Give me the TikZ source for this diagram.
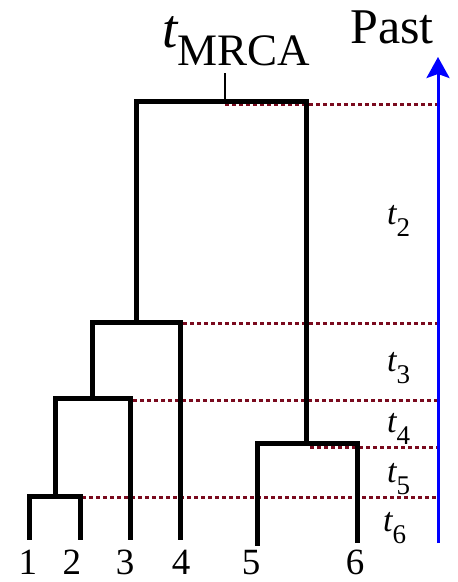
\documentclass[tikz,border=0pt]{standalone}
\usepackage{fontspec}
\setmainfont{Liberation Serif}
\usetikzlibrary{arrows.meta}
\definecolor{dotred}{RGB}{122,10,30}
\tikzset{
  tree/.style={line width=5pt, line join=miter, line cap=rect},
  dotline/.style={dotred, line width=3pt, dash pattern=on 3.5pt off 3.5pt},
  tlab/.style={anchor=base west, inner sep=0pt},
  leaflab/.style={anchor=base, inner sep=0pt, font=\fontsize{37}{37}\selectfont},
}
\newcommand{\tsub}[1]{{\fontsize{34}{34}\selectfont\itshape t}\raisebox{-12pt}{\fontsize{27}{27}\selectfont #1}}
\begin{document}
\begin{tikzpicture}[x=1pt,y=-1pt]
\useasboundingbox (0,0) rectangle (458,582);
% leaves
\coordinate (l1) at (29,537);
\coordinate (l2) at (80,537);
\coordinate (l3) at (130,537);
\coordinate (l4) at (180,537);
\coordinate (l5) at (257,543);
\coordinate (l6) at (357,540);
% internal nodes
\coordinate (n12) at (55,496);
\coordinate (n123) at (92,398);
\coordinate (n1234) at (136,322);
\coordinate (root) at (225,101);
\coordinate (n56) at (306,443);
\coordinate (tick) at (225,73);
% axis coordinates
\coordinate (a2) at (437,104);
\coordinate (a3) at (437,323);
\coordinate (a4) at (437,400);
\coordinate (a5) at (437,447);
\coordinate (a6) at (437,497);
\coordinate (s2) at (225,104);
\coordinate (s3) at (162,323);
\coordinate (s4) at (133,400);
\coordinate (s5) at (310,447);
\coordinate (s6) at (82,497);
\coordinate (abot) at (438,543);
\coordinate (atop) at (438,57);
% dotted lines
\draw[dotline] (s2) -- (a2);
\draw[dotline] (s3) -- (a3);
\draw[dotline] (s4) -- (a4);
\draw[dotline] (s5) -- (a5);
\draw[dotline] (s6) -- (a6);
% tree
\draw[tree] (l1) |- (n12) -| (l2);
\draw[tree] (n12) |- (n123) -| (l3);
\draw[tree] (n123) |- (n1234) -| (l4);
\draw[tree] (n1234) |- (root) -| (n56);
\draw[tree] (l5) |- (n56) -| (l6);
\draw[line width=2.5pt] (root) -- (tick);
% axis
\draw[blue, line width=3pt, -{Stealth[width=23pt,length=21pt,inset=4pt]}] (abot) -- (atop);
% labels
\node[tlab] (past) at (350,43) {\fontsize{50}{50}\selectfont Past};
\node[tlab] (tm) at (162,47) {{\fontsize{55}{55}\selectfont\itshape t}\raisebox{-18pt}{\fontsize{45}{45}\selectfont MRCA}};
\node[tlab] (t2) at (387,224) {\tsub{2}};
\node[tlab] (t3) at (387,371) {\tsub{3}};
\node[tlab] (t4) at (387,432) {\tsub{4}};
\node[tlab] (t5) at (387,482) {\tsub{5}};
\node[tlab] (t6) at (383,531) {\tsub{6}};
\node[leaflab] (x1) at (28,574) {1};
\node[leaflab] (x2) at (72,574) {2};
\node[leaflab] (x3) at (125,574) {3};
\node[leaflab] (x4) at (181,574) {4};
\node[leaflab] (x5) at (251,574) {5};
\node[leaflab] (x6) at (355,574) {6};
\end{tikzpicture}
\end{document}
